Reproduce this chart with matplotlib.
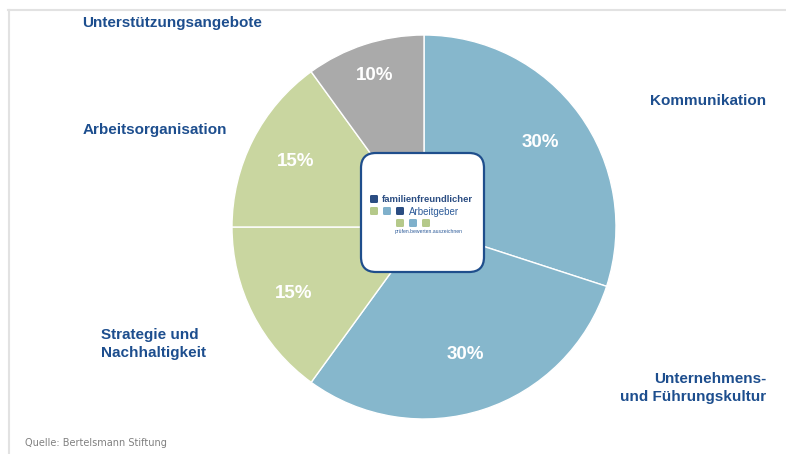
import matplotlib
matplotlib.use("Agg")
import matplotlib.pyplot as plt
import numpy as np
from matplotlib.patches import FancyBboxPatch
from matplotlib.lines import Line2D

# slices, clockwise from 12 o'clock
categories = ["Kommunikation", "Unternehmens-\nund Führungskultur", "Strategie und\nNachhaltigkeit",
              "Arbeitsorganisation", "Unterstützungsangebote"]
shares = [30, 30, 15, 15, 10]
colors = ["#86b7cc", "#86b7cc", "#c9d6a0", "#c9d6a0", "#aaaaaa"]

W, H = 786, 454
label_col = "#1d4e8e"


def py(y):
    # pixel row (from top) -> data y
    return H - y


fig = plt.figure(figsize=(W / 100, H / 100), dpi=100)
ax = fig.add_axes([0, 0, 1, 1])

# light frame at top and left
ax.add_line(Line2D([8, W], [py(9.5), py(9.5)], color="#e2e2e2", lw=1.5))
ax.add_line(Line2D([8.5, 8.5], [0, py(9.5)], color="#e2e2e2", lw=1.5))

wedges, _, autotexts = ax.pie(shares, colors=colors, startangle=90, counterclock=False,
                              center=(424, py(227)), radius=192, frame=True,
                              autopct="%d%%", pctdistance=0.75,
                              wedgeprops=dict(edgecolor="white", linewidth=1),
                              textprops=dict(color="white", fontsize=13.5, fontweight="bold",
                                             family="Liberation Sans"))
ax.set_xlim(0, W)
ax.set_ylim(0, H)
ax.set_aspect("equal")
ax.axis("off")

# nudge the percentage labels a bit like the original
pct_dist = [0.75, 0.70, 0.76, 0.75, 0.83]
for w, t, d in zip(wedges, autotexts, pct_dist):
    ang = np.deg2rad((w.theta1 + w.theta2) / 2)
    t.set_position((424 + 192 * d * np.cos(ang), py(227) + 192 * d * np.sin(ang)))

# outer labels
lab_kw = dict(color=label_col, fontsize=11, fontweight="bold", family="Liberation Sans",
              va="center", linespacing=1.4)
ax.text(766, py(101), categories[0], ha="right", **lab_kw)
ax.text(766, py(388), categories[1], ha="right", multialignment="right", **lab_kw)
ax.text(101, py(344), categories[2], ha="left", multialignment="left", **lab_kw)
ax.text(83, py(130), categories[3], ha="left", **lab_kw)
ax.text(82, py(23), categories[4], ha="left", **lab_kw)

ax.text(25, py(443), "Quelle: Bertelsmann Stiftung", color="#808080", fontsize=7,
        family="DejaVu Sans", ha="left", va="center")

# logo box in the middle
ax.add_patch(FancyBboxPatch((361, py(272)), 123, 119,
                            boxstyle="round,pad=0,rounding_size=15",
                            facecolor="white", edgecolor="#1f4e8c", lw=1.6, zorder=5))

dark, green, light = "#2b4d82", "#b5c98a", "#7fb0cb"
squares = [(370, 195, dark),
           (370, 207, green), (383, 207, light), (396, 207, dark),
           (396, 219, green), (409, 219, light), (422, 219, green)]
for sx, sy, c in squares:
    ax.add_patch(FancyBboxPatch((sx, py(sy + 8)), 8, 8,
                                boxstyle="round,pad=0,rounding_size=1.3",
                                facecolor=c, edgecolor="none", zorder=6))

ax.text(382, py(200), "familienfreundlicher", color=dark, fontsize=6.8, fontweight="bold",
        family="Liberation Sans", ha="left", va="center", zorder=7)
ax.text(409, py(212), "Arbeitgeber", color="#2e5c9a", fontsize=7,
        family="Liberation Sans", ha="left", va="center", zorder=7)
ax.text(395, py(231), "prüfen.bewerten.auszeichnen", color="#2e5c9a", fontsize=3.7,
        family="Liberation Sans", ha="left", va="center", zorder=7)

fig.savefig("out.png", dpi=100)
